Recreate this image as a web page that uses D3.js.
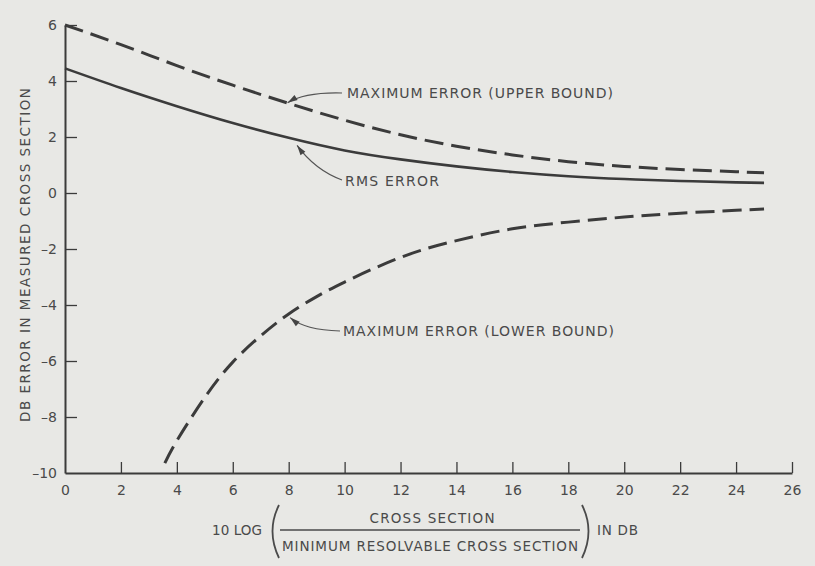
<!DOCTYPE html>
<html>
<head>
<meta charset="utf-8">
<script src="https://cdn.jsdelivr.net/npm/d3@7/dist/d3.min.js"></script>
<style>
  html, body { margin: 0; padding: 0; background: #e8e8e5; }
  svg { display: block; }
  text { font-family: "DejaVu Sans", sans-serif; fill: #4a4a4a; }
</style>
</head>
<body>
<svg id="chart" width="815" height="566"></svg>
<script>
// ---- data ----
const upperX = [0, 2, 4, 6, 8, 10, 12, 14, 16, 18, 20, 22, 24, 25];
const upperY = [6.0, 5.3, 4.55, 3.85, 3.2, 2.6, 2.08, 1.67, 1.36, 1.12, 0.95, 0.84, 0.76, 0.72];

const rmsX = [0, 2, 4, 6, 8, 10, 12, 14, 16, 18, 20, 22, 24, 25];
const rmsY = [4.45, 3.75, 3.1, 2.5, 1.97, 1.52, 1.2, 0.95, 0.75, 0.6, 0.5, 0.43, 0.38, 0.36];

const lowerX = [3.57, 4, 5, 6, 7, 8, 9, 10, 12, 14, 16, 18, 20, 22, 24, 25];
const lowerY = [-9.65, -8.85, -7.3, -6.04, -5.1, -4.32, -3.7, -3.18, -2.3, -1.7, -1.28, -1.04, -0.86, -0.72, -0.62, -0.57];

const xTicks = [0, 2, 4, 6, 8, 10, 12, 14, 16, 18, 20, 22, 24, 26];
const yTicks = [-10, -8, -6, -4, -2, 0, 2, 4, 6];

const yTitle = "DB ERROR IN MEASURED CROSS SECTION";
const xTitleLeft = "10 LOG";
const xTitleNum = "CROSS SECTION";
const xTitleDen = "MINIMUM RESOLVABLE CROSS SECTION";
const xTitleRight = "IN DB";

const labels = [
  { text: "MAXIMUM  ERROR (UPPER BOUND)", tip: [7.96, 3.22] },
  { text: "RMS ERROR", tip: [8.3, 1.7] },
  { text: "MAXIMUM ERROR (LOWER BOUND)", tip: [8.05, -4.45] }
];

// ---- layout ----
const ink = "#3b3b3b";
const svg = d3.select("#chart");
const x = d3.scaleLinear().domain([0, 26]).range([65, 792]);
const y = d3.scaleLinear().domain([-10, 6]).range([473, 25]);

// axes
const fmt = d => (d < 0 ? "\u2013" + Math.abs(d) : String(d));
const gx = svg.append("g").attr("transform", `translate(0,${y(-10)})`)
  .call(d3.axisBottom(x).tickValues(xTicks).tickSizeInner(-11).tickSizeOuter(0).tickPadding(12).tickFormat(fmt));
const gy = svg.append("g").attr("transform", `translate(${x(0)},0)`)
  .call(d3.axisLeft(y).tickValues(yTicks).tickSizeInner(-12).tickSizeOuter(0).tickPadding(8).tickFormat(fmt));
[gx, gy].forEach(g => {
  g.select(".domain").attr("stroke", ink).attr("stroke-width", 2);
  g.selectAll(".tick line").attr("stroke", ink).attr("stroke-width", 1.3);
  g.selectAll(".tick text").attr("font-size", 14).attr("fill", "#4a4a4a")
    .attr("font-family", "DejaVu Sans, sans-serif");
});
gy.selectAll(".tick").filter(d => d === -10).select("line").remove();
gx.selectAll(".tick").filter(d => d === 0).select("line").remove();

// curves
const line = d3.line().x(d => x(d[0])).y(d => y(d[1])).curve(d3.curveNatural);
svg.append("path").datum(d3.zip(upperX, upperY)).attr("d", line)
  .attr("fill", "none").attr("stroke", ink).attr("stroke-width", 3).attr("stroke-dasharray", "19,8");
svg.append("path").datum(d3.zip(rmsX, rmsY)).attr("d", line)
  .attr("fill", "none").attr("stroke", ink).attr("stroke-width", 2.6);
svg.append("path").datum(d3.zip(lowerX, lowerY)).attr("d", line)
  .attr("fill", "none").attr("stroke", ink).attr("stroke-width", 3).attr("stroke-dasharray", "19,8");

// annotations
const labelPos = [[347, 98, 266], [345, 186, 94], [343, 336, 271]];
const arrowStart = [[342, 93], [342, 180], [340, 331]];
const arrowCtrl = [[305, 92], [315, 170], [305, 330]];
labels.forEach((l, i) => {
  const [lx, ly, lw] = labelPos[i];
  svg.append("text").attr("x", lx).attr("y", ly).attr("font-size", 14)
    .attr("textLength", lw).attr("lengthAdjust", "spacing").text(l.text);
  const tx = x(l.tip[0]), ty = y(l.tip[1]);
  const [sx, sy] = arrowStart[i];
  const [cx, cy] = arrowCtrl[i];
  svg.append("path").attr("d", `M${sx},${sy} Q${cx},${cy} ${tx},${ty}`)
    .attr("fill", "none").attr("stroke", "#555").attr("stroke-width", 1.2);
  // arrowhead
  const ang = Math.atan2(ty - cy, tx - cx);
  const L = 10, W = 3;
  const bx = tx - L * Math.cos(ang), by = ty - L * Math.sin(ang);
  const px = -Math.sin(ang) * W, py = Math.cos(ang) * W;
  svg.append("path")
    .attr("d", `M${tx},${ty} L${bx + px},${by + py} L${bx - px * 0.2},${by - py * 0.2} L${bx - px},${by - py} Z`)
    .attr("fill", "#444");
});

// y title
svg.append("text").attr("transform", "translate(30,255) rotate(-90)")
  .attr("text-anchor", "middle").attr("font-size", 13.5)
  .attr("textLength", 334).attr("lengthAdjust", "spacing").text(yTitle);

// x title
svg.append("text").attr("x", 212).attr("y", 535).attr("font-size", 13.5)
  .attr("textLength", 50).attr("lengthAdjust", "spacing").text(xTitleLeft);
svg.append("text").attr("x", 432).attr("y", 523).attr("font-size", 13.5).attr("text-anchor", "middle")
  .attr("textLength", 125).attr("lengthAdjust", "spacing").text(xTitleNum);
svg.append("line").attr("x1", 280).attr("x2", 580).attr("y1", 530).attr("y2", 530)
  .attr("stroke", "#4a4a4a").attr("stroke-width", 1.3);
svg.append("text").attr("x", 282).attr("y", 551).attr("font-size", 13.5)
  .attr("textLength", 296).attr("lengthAdjust", "spacing").text(xTitleDen);
svg.append("text").attr("x", 597).attr("y", 535).attr("font-size", 13.5)
  .attr("textLength", 41).attr("lengthAdjust", "spacing").text(xTitleRight);
// big parentheses
svg.append("path").attr("d", "M279,505 Q266,531 279,558").attr("fill", "none")
  .attr("stroke", "#4a4a4a").attr("stroke-width", 1.8);
svg.append("path").attr("d", "M582,505 Q595,531 582,558").attr("fill", "none")
  .attr("stroke", "#4a4a4a").attr("stroke-width", 1.8);
</script>
</body>
</html>
